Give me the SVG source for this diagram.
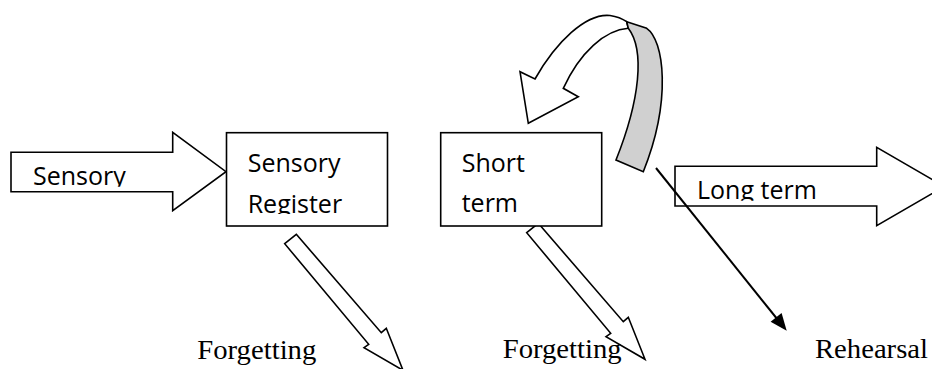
<svg xmlns="http://www.w3.org/2000/svg" width="932" height="369" viewBox="0 0 932 369">
<style>
.s{fill:#fff;stroke:#000;stroke-width:1.6;stroke-linejoin:miter}
.g{fill:#d0d0d0;stroke:#000;stroke-width:1.6}
.c{font-family:"Open Sans","Noto Sans",sans-serif;font-size:25px;fill:#000}
.t{font-family:"Liberation Serif","Times New Roman",serif;font-size:27px;fill:#000}
.ln{stroke:#000;stroke-width:2;fill:none}
</style>
<defs>
<clipPath id="cpA"><rect x="0" y="150" width="175" height="36.7"/></clipPath>
<clipPath id="cpB"><rect x="228" y="134" width="158" height="80"/></clipPath>
<clipPath id="cpC"><rect x="442" y="134" width="158" height="79.5"/></clipPath>
<clipPath id="cpD"><rect x="676" y="167" width="200" height="33.7"/></clipPath>
</defs>
<g id="connectors">
<g id="sensory-input">
<polygon class="s" points="11,152.3 172.7,152.3 172.7,132.3 226,171.7 172.7,210.7 172.7,191.7 11,191.7"/>
<text class="c" x="33" y="185" clip-path="url(#cpA)">Sensory</text>
</g>
<g id="long-term">
<polygon class="s" points="675,166.3 876.7,166.3 876.7,147.3 944.4,186.5 876.7,225.7 876.7,206 675,206"/>
<text class="c" x="697" y="199" clip-path="url(#cpD)">Long term</text>
</g>
<polygon id="forget1" class="s" points="296.3,234.3 381.3,332.7 386.3,328.3 403,370.3 364,347.7 368.7,344.3 284.7,243.7"/>
<polygon id="forget2" class="s" points="538.3,223.3 623.3,321.7 628.3,317.3 645,359.3 606,336.7 610.7,333.3 526.7,232.7"/>
<g id="rehearsal-loop">
<path class="s" d="M535,79 C556,42 586,13 610,15.5 Q620,17 626.7,21.7 L628.3,28.3 C605,30 580,52 563.3,88.3 L578.3,96.7 L528.3,123.3 L520,71.7 Z"/>
<path class="g" d="M626.7,21.7 L646.7,28.3 C664,40 672,100 643.3,171.7 L616,160 C640,100 645,50 628.3,28.3 Z"/>
</g>
<g id="rehearsal-arrow">
<line class="ln" x1="656" y1="168" x2="778" y2="320"/>
<polygon points="786.7,330.7 781.6,313 770.6,321.8" fill="#000"/>
</g>
</g>
<g id="sensory-register">
<rect class="s" x="226.5" y="132.7" width="161" height="93.3"/>
<text class="c" clip-path="url(#cpB)"><tspan x="247.7" y="172">Sensory</tspan><tspan x="247.7" y="212.7">Register</tspan></text>
</g>
<g id="short-term">
<rect class="s" x="440.7" y="132.7" width="161" height="93.3"/>
<text class="c" clip-path="url(#cpC)"><tspan x="461.7" y="172">Short</tspan><tspan x="461.7" y="212.3">term</tspan></text>
</g>
<g id="labels">
<text class="t" x="197.3" y="359" textLength="119" lengthAdjust="spacingAndGlyphs">Forgetting</text>
<text class="t" x="502.7" y="358.3" textLength="119" lengthAdjust="spacingAndGlyphs">Forgetting</text>
<text class="t" x="815" y="358.3" textLength="113" lengthAdjust="spacingAndGlyphs">Rehearsal</text>
</g>
</svg>
